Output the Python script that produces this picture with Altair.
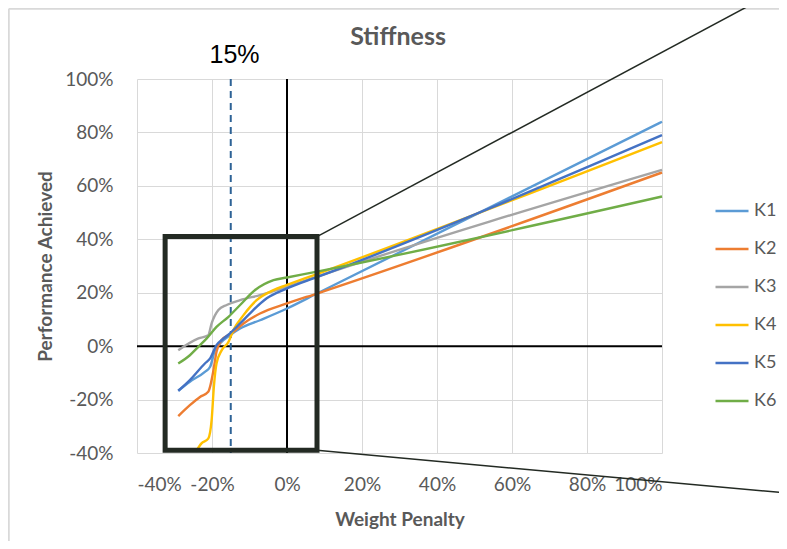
import altair as alt
import pandas as pd

# ---------------- data ----------------
series_names = ["K1", "K2", "K3", "K4", "K5", "K6"]
series_colors = ["#5B9BD5", "#ED7D31", "#A5A5A5", "#FFC000", "#4472C4", "#70AD47"]

k1_x = [-29, -25.9, -21.9, -20.5, -19.2, -17.9, -15.2, -12.5, -7.2, 0, 8, 100]
k1_y = [-16.7, -13.3, -9.6, -7.7, -1.5, 1.0, 4.1, 6.6, 9.7, 14.1, 19.7, 84]

k2_x = [-29, -25.9, -23.2, -21, -19.6, -18.8, -17.4, -14.8, -11.6, -7.2, 0, 8, 100]
k2_y = [-26.2, -22.1, -19, -17.1, -9, -2.1, 2.3, 4.8, 8.5, 12.2, 16, 19.7, 65]

k3_x = [-29, -23.6, -21, -20.1, -18.3, -16.1, -12.5, -7.2, 0, 8, 100]
k3_y = [-1.5, 2.9, 4.1, 8.5, 13.5, 15.4, 17.2, 19.1, 22.2, 26, 66]

k4_x = [-24.3, -22.8, -21, -20.1, -19.5, -18.8, -17.4, -15.6, -14.3, -11.6, -8.1, -3.6, 0, 8, 100]
k4_y = [-39.5, -36.4, -34.6, -27.7, -15.2, -6.5, -1.5, 1.6, 6, 11.6, 17.2, 21, 22.9, 27, 76.4]

k5_x = [-29, -25.9, -21.9, -20.5, -18.8, -17.4, -15.2, -12.5, -9, -5.4, 0, 8, 100]
k5_y = [-16.7, -12.7, -6.5, -4.6, 0.4, 2.3, 4.8, 8.5, 13.5, 17.9, 21.6, 25.8, 79]

k6_x = [-29, -25.9, -23.6, -21.4, -18.8, -15.6, -12.5, -8.5, -3.6, 0, 8, 100]
k6_y = [-6.5, -3.4, -0.2, 2.9, 7.2, 11, 15.4, 21, 24.7, 25.7, 27.9, 56]

x_ticks = [-40, -20, 0, 20, 40, 60, 80, 100]
y_ticks = [-40, -20, 0, 20, 40, 60, 80, 100]

chart_title = "Stiffness"

# annotations (data coordinates)
threshold_x = -15
threshold_label = "15%"
threshold_label_pos = [-14, 109]
title_pos = [29.6, 112.7]
box_x = [-32.5, 8]
box_y = [-39, 41]
callout_top = [[8, 41], [133.3, 135]]
callout_bottom = [[8, -39], [133.3, -55]]
frame_left = [[-74.2, 126.3], [-74.2, -80]]
frame_top = [[-74.2, 126.3], [134, 126.3]]

# ---------------- frames ----------------
rows = []
for name, xs, ys in zip(series_names, [k1_x, k2_x, k3_x, k4_x, k5_x, k6_x],
                        [k1_y, k2_y, k3_y, k4_y, k5_y, k6_y]):
    for i, (x, y) in enumerate(zip(xs, ys)):
        rows.append({"series": name, "x": x, "y": y, "i": i})
df = pd.DataFrame(rows)

xscale = alt.Scale(domain=[-40, 100], nice=False, zero=False)
yscale = alt.Scale(domain=[-40, 100], nice=False, zero=False)
LABEL = "#595959"
FONT = "Lato"

xaxis = alt.Axis(values=x_ticks, labelExpr="datum.value + '%'", title="Weight Penalty",
                 grid=True, gridColor="#D9D9D9", domain=False, ticks=False,
                 labelPadding=22, titlePadding=16, labelFontSize=19, labelColor=LABEL,
                 titleFontSize=19, titleColor=LABEL, titleFontWeight="bold",
                 labelFont=FONT, titleFont=FONT)
yaxis = alt.Axis(values=y_ticks, labelExpr="datum.value + '%'", title="Performance Achieved",
                 grid=True, gridColor="#D9D9D9", domain=False, ticks=False,
                 labelPadding=24, titlePadding=9, labelFontSize=19, labelColor=LABEL,
                 titleFontSize=19, titleColor=LABEL, titleFontWeight="bold",
                 labelFont=FONT, titleFont=FONT)

# chart-area frame (light grey)
frame_rows = []
for k, seg in enumerate([frame_left, frame_top]):
    for j, (x, y) in enumerate(seg):
        frame_rows.append({"seg": k, "x": x, "y": y, "j": j})
frame = alt.Chart(pd.DataFrame(frame_rows)).mark_line(
    color="#D9D9D9", strokeWidth=2, clip=False).encode(
    x=alt.X("x:Q", scale=xscale, axis=xaxis), y=alt.Y("y:Q", scale=yscale, axis=yaxis),
    detail="seg:N", order="j:Q")

# zero axes (black)
vzero = alt.Chart(pd.DataFrame({"x": [0], "y": [100], "y2": [-40]})).mark_rule(
    color="black", strokeWidth=2).encode(
    x=alt.X("x:Q", scale=xscale), y=alt.Y("y:Q", scale=yscale), y2="y2")
hzero = alt.Chart(pd.DataFrame({"y": [0], "x": [-40], "x2": [100]})).mark_rule(
    color="black", strokeWidth=2).encode(
    y=alt.Y("y:Q", scale=yscale), x=alt.X("x:Q", scale=xscale), x2="x2")

dashed = alt.Chart(pd.DataFrame({"x": [threshold_x], "y": [100], "y2": [-40]})).mark_rule(
    color="#2E6396", strokeWidth=2, strokeDash=[7, 5]).encode(
    x=alt.X("x:Q", scale=xscale), y=alt.Y("y:Q", scale=yscale), y2="y2")

lines = alt.Chart(df).mark_line(strokeWidth=2.4, interpolate="monotone").encode(
    x=alt.X("x:Q", scale=xscale),
    y=alt.Y("y:Q", scale=yscale),
    color=alt.Color("series:N", scale=alt.Scale(domain=series_names, range=series_colors),
                    legend=alt.Legend(title=None, orient="none", legendX=577, legendY=114,
                                      symbolType="stroke", symbolSize=1089, symbolStrokeWidth=2.5,
                                      labelFontSize=18, labelColor=LABEL, labelFont=FONT,
                                      rowPadding=11, labelOffset=4)),
    order="i:Q",
)

box = alt.Chart(pd.DataFrame({"x": [box_x[0]], "x2": [box_x[1]], "y": [box_y[0]], "y2": [box_y[1]]})).mark_rect(
    fillOpacity=0, stroke="#232A23", strokeWidth=5, clip=False).encode(
    x=alt.X("x:Q", scale=xscale), x2="x2", y=alt.Y("y:Q", scale=yscale), y2="y2")

callout_rows = []
for k, seg in enumerate([callout_top, callout_bottom]):
    for j, (x, y) in enumerate(seg):
        callout_rows.append({"seg": k, "x": x, "y": y, "j": j})
callouts = alt.Chart(pd.DataFrame(callout_rows)).mark_line(
    color="#232A23", strokeWidth=1.5, clip=False).encode(
    x=alt.X("x:Q", scale=xscale), y=alt.Y("y:Q", scale=yscale), detail="seg:N", order="j:Q")

label = alt.Chart(pd.DataFrame({"x": [threshold_label_pos[0]], "y": [threshold_label_pos[1]],
                                "t": [threshold_label]})).mark_text(
    fontSize=25, font="Liberation Sans", color="black", clip=False).encode(
    x=alt.X("x:Q", scale=xscale), y=alt.Y("y:Q", scale=yscale), text="t:N")

title = alt.Chart(pd.DataFrame({"x": [title_pos[0]], "y": [title_pos[1]],
                                "t": [chart_title]})).mark_text(
    fontSize=25, font=FONT, fontWeight="bold", color=LABEL, baseline="alphabetic",
    clip=False).encode(
    x=alt.X("x:Q", scale=xscale), y=alt.Y("y:Q", scale=yscale), text="t:N")

chart = alt.layer(frame, vzero, hzero, dashed, lines, box, callouts, label, title).properties(
    width=525, height=374,
    autosize=alt.AutoSizeParams(type="none"),
    padding={"left": 129, "top": 71, "right": 117, "bottom": 88},
).configure_view(stroke=None)

chart.save("out.html", embed_options={"renderer": "svg", "actions": False})
